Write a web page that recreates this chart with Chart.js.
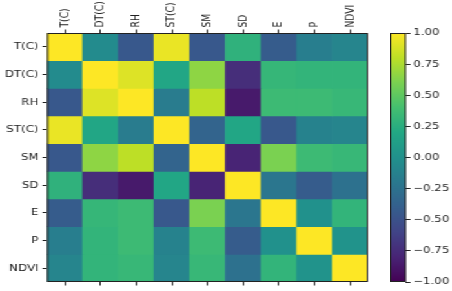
<!DOCTYPE html>
<html>
<head>
<meta charset="utf-8">
<script src="https://cdn.jsdelivr.net/npm/chart.js@4/dist/chart.umd.min.js"></script>
<style>
html,body{margin:0;padding:0;background:#fff;overflow:hidden}
#wrap{position:absolute;left:0;top:0;width:350px;height:291px;transform:scaleX(1.2914);transform-origin:0 0}
#heat{position:absolute;left:0;top:0}
#bar{position:absolute;left:302px;top:0}
</style>
</head>
<body>
<div id="wrap">
<canvas id="heat" width="350" height="291"></canvas>
<canvas id="bar" width="48" height="291"></canvas>
</div>
<script>
// variables (rows and columns)
const vars=["T(C)","DT(C)","RH","ST(C)","SM","SD","E","P","NDVI"]

// correlation rows
const tC  =[ 1.00,-0.05,-0.45, 0.94,-0.45, 0.28,-0.42,-0.15,-0.10]
const dtC =[-0.05, 1.00, 0.90, 0.18, 0.66,-0.74, 0.32, 0.30, 0.30]
const rh  =[-0.45, 0.90, 1.00,-0.17, 0.80,-0.86, 0.36, 0.36, 0.33]
const stC =[ 0.94, 0.18,-0.17, 1.00,-0.36, 0.18,-0.45,-0.12,-0.10]
const sm  =[-0.45, 0.66, 0.80,-0.36, 1.00,-0.80, 0.60, 0.36, 0.33]
const sd  =[ 0.28,-0.74,-0.86, 0.18,-0.80, 1.00,-0.22,-0.42,-0.26]
const e   =[-0.42, 0.32, 0.36,-0.45, 0.60,-0.22, 1.00, 0.00, 0.30]
const p   =[-0.15, 0.30, 0.36,-0.12, 0.36,-0.42, 0.00, 1.00, 0.02]
const ndvi=[-0.10, 0.30, 0.33,-0.10, 0.33,-0.26, 0.30, 0.02, 1.00]
const rows=[tC,dtC,rh,stC,sm,sd,e,p,ndvi]

// colour bar range and ticks
const cbMin=-1
const cbMax=1
const cbStep=0.25

const VIRIDIS=["#440154","#482475","#414487","#355f8d","#2a788e","#21918c","#22a884","#44bf70","#7ad151","#bddf26","#fde725"]

function hexRgb(h){
return [parseInt(h.slice(1,3),16),parseInt(h.slice(3,5),16),parseInt(h.slice(5,7),16)]
}

function viridis(v){
let t=(v-cbMin)/(cbMax-cbMin)
t=Math.max(0,Math.min(1,t))
let pos=t*(VIRIDIS.length-1)
let i=Math.min(Math.floor(pos),VIRIDIS.length-2)
let f=pos-i
let a=hexRgb(VIRIDIS[i]),b=hexRgb(VIRIDIS[i+1])
let c=a.map((x,k)=>Math.round(x+(b[k]-x)*f))
return `rgb(${c[0]},${c[1]},${c[2]})`
}

const font={family:"DejaVu Sans",size:9.2}
const ink="#222"

const frame={
id:"frame",
afterDatasetsDraw(chart){
const a=chart.chartArea,ctx=chart.ctx
ctx.save()
ctx.strokeStyle="#222"
ctx.lineWidth=1
ctx.strokeRect(a.left+0.5,a.top+0.5,a.right-a.left-1,a.bottom-a.top-1)
ctx.restore()
}
}

Chart.defaults.font=font
Chart.defaults.color=ink

// heatmap as floating bars, one dataset per row
new Chart(document.getElementById("heat"),{
type:"bar",
data:{
labels:vars,
datasets:rows.map((r,i)=>({
label:vars[i],
data:r.map((v,j)=>({x:vars[j],y:[i,i+1],v:v})),
backgroundColor:r.map(v=>viridis(v)),
borderWidth:0,
barPercentage:1,
categoryPercentage:1
}))
},
options:{
responsive:false,
animation:false,
grouped:false,
layout:{padding:{left:0,right:65,top:0,bottom:0}},
plugins:{legend:{display:false},tooltip:{enabled:false}},
scales:{
x:{
position:"top",
grid:{offset:false,drawOnChartArea:false,tickLength:3.5,color:ink},
border:{display:false},
ticks:{minRotation:90,maxRotation:90,padding:2,labelOffset:font.size*1.2,font:font,color:ink},
afterFit(s){s.height=33}
},
x2:{
position:"bottom",
labels:vars,
type:"category",
grid:{offset:false,drawOnChartArea:false,tickLength:3.5,color:ink},
border:{display:false},
ticks:{display:false},
afterFit(s){s.height=9}
},
y:{
min:0,
max:vars.length,
reverse:true,
grid:{drawOnChartArea:false,tickLength:3.5,color:ink},
border:{display:false},
afterBuildTicks(s){s.ticks=vars.map((v,i)=>({value:i+0.5}))},
ticks:{padding:3,font:font,color:ink,callback:(v,i)=>vars[i]},
afterFit(s){s.width=36.4}
}
}
},
plugins:[frame]
})

// colour bar
const cbTicks=[]
for(let v=cbMin;v<=cbMax+1e-9;v+=cbStep){cbTicks.push(v)}

new Chart(document.getElementById("bar"),{
type:"bar",
data:{
labels:[""],
datasets:[{
data:[[cbMin,cbMax]],
backgroundColor(ctx){
const a=ctx.chart.chartArea
if(!a)return VIRIDIS[0]
const g=ctx.chart.ctx.createLinearGradient(0,a.bottom,0,a.top)
VIRIDIS.forEach((c,i)=>g.addColorStop(i/(VIRIDIS.length-1),c))
return g
},
borderWidth:0,
barPercentage:1,
categoryPercentage:1
}]
},
options:{
responsive:false,
animation:false,
layout:{padding:{left:0,right:0,top:33,bottom:9}},
plugins:{legend:{display:false},tooltip:{enabled:false}},
scales:{
x:{display:false},
y:{
position:"right",
min:cbMin,
max:cbMax,
grid:{drawOnChartArea:false,tickLength:3.5,color:ink},
border:{display:false},
afterBuildTicks(s){s.ticks=cbTicks.map(v=>({value:v}))},
ticks:{padding:2,font:font,color:ink,callback:v=>(v<0?"\u2212":"")+Math.abs(v).toFixed(2)},
afterFit(s){s.width=35.6}
}
}
},
plugins:[frame]
})
</script>
</body>
</html>
